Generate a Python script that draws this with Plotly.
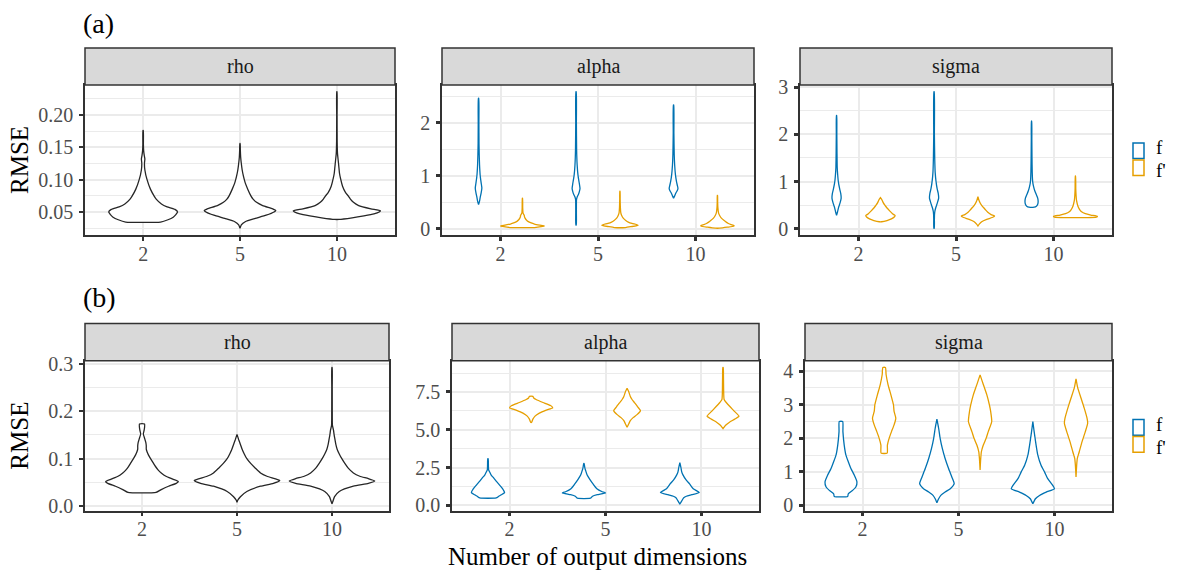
import plotly.graph_objects as go

W, H = 1178, 578
FONT = "Liberation Serif"

DIMS = ["2", "5", "10"]
PARAMS = ["rho", "alpha", "sigma"]
GROUPS = ["f", "f'"]
COLORS = {"f": "#0072B2", "f'": "#E69F00", "all": "#262626"}

# ---------- violin density profiles ----------
# y = RMSE value, w = half-width relative to the widest allowed violin

# (a) rho
A_RHO_2_Y = [0.0345, 0.038, 0.042, 0.046, 0.05, 0.054, 0.058, 0.0625, 0.07, 0.075, 0.085, 0.1, 0.115, 0.125, 0.132, 0.138, 0.145, 0.155, 0.176]
A_RHO_2_W = [0.40, 0.57, 0.69, 0.75, 0.79, 0.73, 0.55, 0.42, 0.30, 0.25, 0.17, 0.09, 0.04, 0.03, 0.04, 0.025, 0.012, 0.006, 0.004]
A_RHO_5_Y = [0.025, 0.03, 0.035, 0.04, 0.045, 0.05, 0.0525, 0.055, 0.06, 0.065, 0.07, 0.075, 0.085, 0.095, 0.105, 0.115, 0.125, 0.135, 0.145, 0.156]
A_RHO_5_W = [0.0, 0.03, 0.12, 0.35, 0.6, 0.78, 0.82, 0.75, 0.52, 0.38, 0.30, 0.25, 0.18, 0.12, 0.08, 0.05, 0.03, 0.015, 0.008, 0.003]
A_RHO_10_Y = [0.0385, 0.041, 0.044, 0.047, 0.05, 0.052, 0.055, 0.06, 0.065, 0.07, 0.075, 0.08, 0.09, 0.1, 0.11, 0.12, 0.13, 0.14, 0.16, 0.2, 0.236]
A_RHO_10_W = [0.05, 0.35, 0.62, 0.85, 0.97, 1.0, 0.78, 0.5, 0.38, 0.31, 0.26, 0.2, 0.13, 0.09, 0.06, 0.045, 0.03, 0.015, 0.006, 0.004, 0.003]

# (a) alpha
A_ALPHA_F_2_Y = [0.456, 0.52, 0.59, 0.68, 0.77, 0.86, 1.0, 1.2, 1.4, 1.6, 2.0, 2.46]
A_ALPHA_F_2_W = [0.0, 0.045, 0.075, 0.12, 0.15, 0.12, 0.075, 0.045, 0.03, 0.02, 0.015, 0.008]
A_ALPHA_FP_2_Y = [0.024, 0.04, 0.055, 0.07, 0.09, 0.11, 0.14, 0.17, 0.2, 0.23, 0.25, 0.27, 0.3, 0.4, 0.577]
A_ALPHA_FP_2_W = [0.55, 0.85, 1.0, 0.8, 0.55, 0.4, 0.25, 0.17, 0.12, 0.09, 0.09, 0.06, 0.025, 0.012, 0.005]
A_ALPHA_F_5_Y = [0.073, 0.3, 0.55, 0.6, 0.65, 0.7, 0.76, 0.85, 1.0, 1.2, 1.5, 2.0, 2.58]
A_ALPHA_F_5_W = [0.01, 0.015, 0.02, 0.05, 0.11, 0.15, 0.18, 0.15, 0.09, 0.05, 0.025, 0.015, 0.008]
A_ALPHA_FP_5_Y = [0.024, 0.04, 0.065, 0.08, 0.1, 0.125, 0.15, 0.2, 0.25, 0.3, 0.4, 0.55, 0.71]
A_ALPHA_FP_5_W = [0.25, 0.5, 0.83, 0.75, 0.55, 0.38, 0.28, 0.15, 0.08, 0.04, 0.02, 0.01, 0.005]
A_ALPHA_F_10_Y = [0.577, 0.62, 0.67, 0.72, 0.76, 0.82, 0.9, 1.0, 1.2, 1.4, 1.8, 2.33]
A_ALPHA_F_10_W = [0.0, 0.05, 0.1, 0.17, 0.2, 0.17, 0.13, 0.09, 0.05, 0.03, 0.015, 0.008]
A_ALPHA_FP_10_Y = [0.012, 0.03, 0.05, 0.065, 0.08, 0.1, 0.125, 0.15, 0.2, 0.25, 0.3, 0.4, 0.5, 0.63]
A_ALPHA_FP_10_W = [0.1, 0.45, 0.75, 0.75, 0.62, 0.5, 0.4, 0.32, 0.18, 0.1, 0.05, 0.02, 0.01, 0.005]

# (a) sigma
A_SIGMA_F_2_Y = [0.287, 0.35, 0.45, 0.55, 0.65, 0.75, 0.85, 1.0, 1.15, 1.3, 1.6, 2.0, 2.4]
A_SIGMA_F_2_W = [0.0, 0.04, 0.09, 0.16, 0.21, 0.19, 0.14, 0.08, 0.05, 0.03, 0.02, 0.012, 0.006]
A_SIGMA_FP_2_Y = [0.15, 0.175, 0.21, 0.25, 0.28, 0.32, 0.38, 0.44, 0.5, 0.56, 0.62, 0.66]
A_SIGMA_FP_2_W = [0.05, 0.3, 0.5, 0.63, 0.67, 0.55, 0.42, 0.3, 0.2, 0.12, 0.06, 0.0]
A_SIGMA_F_5_Y = [0.014, 0.2, 0.3, 0.38, 0.45, 0.55, 0.65, 0.75, 0.85, 1.0, 1.2, 1.5, 2.0, 2.9]
A_SIGMA_F_5_W = [0.01, 0.015, 0.02, 0.04, 0.08, 0.15, 0.21, 0.19, 0.14, 0.09, 0.05, 0.03, 0.015, 0.008]
A_SIGMA_FP_5_Y = [0.06, 0.1, 0.15, 0.2, 0.24, 0.27, 0.3, 0.35, 0.4, 0.5, 0.6, 0.68]
A_SIGMA_FP_5_W = [0.0, 0.06, 0.17, 0.4, 0.65, 0.76, 0.6, 0.45, 0.35, 0.16, 0.05, 0.0]
A_SIGMA_F_10_Y = [0.46, 0.48, 0.52, 0.58, 0.65, 0.72, 0.8, 0.9, 1.0, 1.2, 1.5, 1.9, 2.28]
A_SIGMA_F_10_W = [0.12, 0.22, 0.28, 0.3, 0.28, 0.22, 0.15, 0.09, 0.05, 0.03, 0.02, 0.012, 0.006]
A_SIGMA_FP_10_Y = [0.246, 0.265, 0.29, 0.32, 0.36, 0.4, 0.45, 0.5, 0.6, 0.7, 0.85, 1.12]
A_SIGMA_FP_10_W = [0.95, 1.0, 0.7, 0.45, 0.28, 0.2, 0.14, 0.1, 0.05, 0.03, 0.015, 0.005]

# (b) rho
B_RHO_2_Y = [0.029, 0.035, 0.042, 0.048, 0.052, 0.057, 0.063, 0.07, 0.076, 0.083, 0.09, 0.1, 0.108, 0.114, 0.12, 0.127, 0.134, 0.14, 0.146, 0.152, 0.16, 0.166, 0.173]
B_RHO_2_W = [0.33, 0.45, 0.62, 0.8, 0.85, 0.72, 0.56, 0.45, 0.38, 0.32, 0.27, 0.2, 0.15, 0.12, 0.1, 0.1, 0.09, 0.07, 0.05, 0.03, 0.05, 0.06, 0.06]
B_RHO_5_Y = [0.008, 0.013, 0.02, 0.031, 0.042, 0.048, 0.054, 0.058, 0.063, 0.07, 0.08, 0.09, 0.1, 0.11, 0.12, 0.13, 0.14, 0.151]
B_RHO_5_W = [0.0, 0.02, 0.08, 0.23, 0.55, 0.85, 1.0, 0.88, 0.7, 0.55, 0.43, 0.32, 0.23, 0.17, 0.12, 0.08, 0.04, 0.0]
B_RHO_10_Y = [0.005, 0.01, 0.02, 0.031, 0.042, 0.048, 0.053, 0.058, 0.063, 0.07, 0.08, 0.09, 0.1, 0.11, 0.12, 0.13, 0.14, 0.15, 0.16, 0.17, 0.2, 0.25, 0.292]
B_RHO_10_W = [0.0, 0.02, 0.06, 0.17, 0.5, 0.85, 1.0, 0.85, 0.65, 0.5, 0.38, 0.3, 0.23, 0.17, 0.12, 0.09, 0.07, 0.05, 0.035, 0.01, 0.006, 0.005, 0.004]

# (b) alpha
B_ALPHA_F_2_Y = [0.49, 0.6, 0.7, 0.85, 1.0, 1.2, 1.4, 1.6, 1.8, 2.0, 2.2, 2.35, 2.6, 3.09]
B_ALPHA_F_2_W = [0.38, 0.5, 0.62, 0.77, 0.72, 0.62, 0.5, 0.38, 0.27, 0.15, 0.08, 0.03, 0.02, 0.01]
B_ALPHA_FP_2_Y = [5.48, 5.55, 5.7, 5.9, 6.1, 6.3, 6.45, 6.6, 6.8, 7.0, 7.1, 7.21]
B_ALPHA_FP_2_W = [0.01, 0.04, 0.08, 0.18, 0.38, 0.7, 1.0, 0.9, 0.55, 0.23, 0.12, 0.08]
B_ALPHA_F_5_Y = [0.47, 0.6, 0.7, 0.82, 0.9, 1.1, 1.4, 1.7, 2.0, 2.3, 2.5, 2.77]
B_ALPHA_F_5_W = [0.3, 0.4, 0.62, 1.0, 0.85, 0.6, 0.43, 0.28, 0.15, 0.08, 0.04, 0.01]
B_ALPHA_FP_5_Y = [5.16, 5.4, 5.6, 5.8, 6.0, 6.25, 6.5, 6.8, 7.0, 7.2, 7.5, 7.74]
B_ALPHA_FP_5_W = [0.0, 0.08, 0.15, 0.28, 0.46, 0.62, 0.5, 0.34, 0.23, 0.15, 0.08, 0.0]
B_ALPHA_F_10_Y = [0.1, 0.2, 0.35, 0.5, 0.6, 0.7, 0.85, 1.1, 1.4, 1.7, 2.0, 2.2, 2.5, 2.83]
B_ALPHA_F_10_W = [0.0, 0.05, 0.11, 0.18, 0.3, 0.55, 0.9, 0.62, 0.46, 0.28, 0.15, 0.09, 0.05, 0.0]
B_ALPHA_FP_10_Y = [5.07, 5.3, 5.5, 5.7, 5.9, 6.2, 6.5, 6.8, 7.0, 7.5, 8.0, 8.5, 9.12]
B_ALPHA_FP_10_W = [0.0, 0.12, 0.3, 0.54, 0.74, 0.54, 0.34, 0.15, 0.05, 0.03, 0.025, 0.02, 0.01]

# (b) sigma
B_SIGMA_F_2_Y = [0.27, 0.35, 0.45, 0.55, 0.7, 0.9, 1.1, 1.3, 1.5, 1.8, 2.2, 2.5]
B_SIGMA_F_2_W = [0.31, 0.34, 0.54, 0.69, 0.74, 0.62, 0.46, 0.34, 0.23, 0.15, 0.09, 0.08]
B_SIGMA_FP_2_Y = [1.56, 1.8, 2.0, 2.2, 2.4, 2.6, 2.8, 3.0, 3.3, 3.6, 3.9, 4.11]
B_SIGMA_FP_2_W = [0.14, 0.15, 0.23, 0.34, 0.46, 0.54, 0.46, 0.43, 0.31, 0.18, 0.09, 0.06]
B_SIGMA_F_5_Y = [0.08, 0.2, 0.3, 0.4, 0.5, 0.65, 0.85, 1.1, 1.4, 1.7, 2.0, 2.3, 2.57]
B_SIGMA_F_5_W = [0.0, 0.08, 0.18, 0.38, 0.62, 0.8, 0.69, 0.54, 0.38, 0.25, 0.15, 0.08, 0.0]
B_SIGMA_FP_5_Y = [1.06, 1.4, 1.6, 1.8, 2.0, 2.2, 2.5, 2.8, 3.0, 3.3, 3.6, 3.89]
B_SIGMA_FP_5_W = [0.0, 0.03, 0.06, 0.15, 0.28, 0.38, 0.54, 0.49, 0.43, 0.31, 0.15, 0.0]
B_SIGMA_F_10_Y = [0.05, 0.2, 0.3, 0.4, 0.5, 0.6, 0.8, 1.0, 1.2, 1.5, 1.8, 2.2, 2.5]
B_SIGMA_F_10_W = [0.0, 0.12, 0.31, 0.62, 1.0, 0.92, 0.69, 0.54, 0.38, 0.23, 0.15, 0.06, 0.0]
B_SIGMA_FP_10_Y = [0.85, 1.2, 1.4, 1.6, 1.9, 2.2, 2.45, 2.6, 2.9, 3.2, 3.5, 3.77]
B_SIGMA_FP_10_W = [0.0, 0.03, 0.06, 0.15, 0.28, 0.43, 0.54, 0.51, 0.38, 0.23, 0.08, 0.0]

# ---------- assemble ----------
VIOLINS = {
    ("a", "rho"): [("2", "all", A_RHO_2_Y, A_RHO_2_W), ("5", "all", A_RHO_5_Y, A_RHO_5_W),
                   ("10", "all", A_RHO_10_Y, A_RHO_10_W)],
    ("a", "alpha"): [("2", "f", A_ALPHA_F_2_Y, A_ALPHA_F_2_W), ("2", "f'", A_ALPHA_FP_2_Y, A_ALPHA_FP_2_W),
                     ("5", "f", A_ALPHA_F_5_Y, A_ALPHA_F_5_W), ("5", "f'", A_ALPHA_FP_5_Y, A_ALPHA_FP_5_W),
                     ("10", "f", A_ALPHA_F_10_Y, A_ALPHA_F_10_W), ("10", "f'", A_ALPHA_FP_10_Y, A_ALPHA_FP_10_W)],
    ("a", "sigma"): [("2", "f", A_SIGMA_F_2_Y, A_SIGMA_F_2_W), ("2", "f'", A_SIGMA_FP_2_Y, A_SIGMA_FP_2_W),
                     ("5", "f", A_SIGMA_F_5_Y, A_SIGMA_F_5_W), ("5", "f'", A_SIGMA_FP_5_Y, A_SIGMA_FP_5_W),
                     ("10", "f", A_SIGMA_F_10_Y, A_SIGMA_F_10_W), ("10", "f'", A_SIGMA_FP_10_Y, A_SIGMA_FP_10_W)],
    ("b", "rho"): [("2", "all", B_RHO_2_Y, B_RHO_2_W), ("5", "all", B_RHO_5_Y, B_RHO_5_W),
                   ("10", "all", B_RHO_10_Y, B_RHO_10_W)],
    ("b", "alpha"): [("2", "f", B_ALPHA_F_2_Y, B_ALPHA_F_2_W), ("2", "f'", B_ALPHA_FP_2_Y, B_ALPHA_FP_2_W),
                     ("5", "f", B_ALPHA_F_5_Y, B_ALPHA_F_5_W), ("5", "f'", B_ALPHA_FP_5_Y, B_ALPHA_FP_5_W),
                     ("10", "f", B_ALPHA_F_10_Y, B_ALPHA_F_10_W), ("10", "f'", B_ALPHA_FP_10_Y, B_ALPHA_FP_10_W)],
    ("b", "sigma"): [("2", "f", B_SIGMA_F_2_Y, B_SIGMA_F_2_W), ("2", "f'", B_SIGMA_FP_2_Y, B_SIGMA_FP_2_W),
                     ("5", "f", B_SIGMA_F_5_Y, B_SIGMA_F_5_W), ("5", "f'", B_SIGMA_FP_5_Y, B_SIGMA_FP_5_W),
                     ("10", "f", B_SIGMA_F_10_Y, B_SIGMA_F_10_W), ("10", "f'", B_SIGMA_FP_10_Y, B_SIGMA_FP_10_W)],
}

# y-axis tick settings per panel: (dtick, tickformat)
YTICKS = {
    ("a", "rho"): (0.05, ".2f"), ("a", "alpha"): (1, "d"), ("a", "sigma"): (1, "d"),
    ("b", "rho"): (0.1, ".1f"), ("b", "alpha"): (2.5, ".1f"), ("b", "sigma"): (1, "d"),
}

# panel geometry in pixels: x0, x1, strip top, plot top, plot bottom
GEOM = {
    ("a", "rho"): (85, 395, 40, 78, 232), ("a", "alpha"): (442, 754, 40, 78, 232),
    ("a", "sigma"): (800, 1112, 40, 78, 232),
    ("b", "rho"): (85, 389, 323, 361, 515), ("b", "alpha"): (452, 759, 323, 361, 515),
    ("b", "sigma"): (805, 1112, 323, 361, 515),
}

fig = go.Figure()
layout_axes = {}
shapes = []
annotations = []

GRID = "#EBEBEB"
DARK = "#333333"

idx = 0
for row in ["a", "b"]:
    for p in PARAMS:
        idx += 1
        key = (row, p)
        xs_name = "x" if idx == 1 else f"x{idx}"
        ys_name = "y" if idx == 1 else f"y{idx}"
        dodge = p != "rho"
        half = 0.225 if dodge else 0.45
        ymin, ymax = 1e9, -1e9
        for dim, grp, yv, wv in VIOLINS[key]:
            pos = DIMS.index(dim) + 1
            if dodge:
                pos += -0.225 if grp == "f" else 0.225
            right = [pos + w * half for w in wv]
            left = [pos - w * half for w in wv]
            xs = right + left[::-1] + [right[0]]
            ys = list(yv) + list(yv)[::-1] + [yv[0]]
            ymin, ymax = min(ymin, min(yv)), max(ymax, max(yv))
            fig.add_trace(go.Scatter(
                x=xs, y=ys, mode="lines", fill="toself", fillcolor="white",
                line=dict(color=COLORS[grp], width=1.3, shape="spline", smoothing=0.5),
                xaxis=xs_name, yaxis=ys_name, showlegend=False, hoverinfo="skip"))
        span = ymax - ymin
        yr = [ymin - 0.05 * span, ymax + 0.05 * span]
        x0, x1, st, pt, pb = GEOM[key]
        dt, fmt = YTICKS[key]
        tw = 1.6 if p == "rho" else 3
        common = dict(showline=True, mirror=True, linecolor=DARK, linewidth=1.5,
                      ticks="outside", ticklen=4, tickwidth=tw, tickcolor=DARK,
                      tickfont=dict(family=FONT, size=20, color="#4D4D4D"),
                      showgrid=True, gridcolor=GRID, gridwidth=1.6, zeroline=False,
                      fixedrange=True)
        layout_axes["xaxis" if idx == 1 else f"xaxis{idx}"] = dict(
            domain=[x0 / W, x1 / W], range=[0.4, 3.6], tickmode="array",
            tickvals=[1, 2, 3], ticktext=DIMS, anchor=ys_name,
            ticklabelstandoff=-4, **common)
        layout_axes["yaxis" if idx == 1 else f"yaxis{idx}"] = dict(
            domain=[1 - pb / H, 1 - pt / H], range=yr, tick0=0, dtick=dt,
            tickformat=fmt, anchor=xs_name, ticklabelstandoff=2,
            minor=dict(dtick=dt / 2, tick0=0, showgrid=True, gridcolor=GRID,
                       gridwidth=0.8, ticks=""),
            **common)
        # strip
        shapes.append(dict(type="rect", xref="paper", yref="paper",
                           x0=x0 / W, x1=x1 / W, y0=1 - pt / H, y1=1 - st / H,
                           fillcolor="#D9D9D9", line=dict(color=DARK, width=1.5)))
        annotations.append(dict(text=p, xref="paper", yref="paper",
                                x=(x0 + x1) / 2 / W, y=1 - (st + pt) / 2 / H,
                                showarrow=False, xanchor="center", yanchor="middle",
                                font=dict(family=FONT, size=20, color="#1A1A1A")))

# row labels, axis titles
for lab, yc, ymid in [("(a)", 15, 155), ("(b)", 296, 438)]:
    annotations.append(dict(text=lab, xref="paper", yref="paper", x=81 / W, y=1 - yc / H,
                            xanchor="left", yanchor="middle", showarrow=False,
                            font=dict(family=FONT, size=28, color="black")))
    annotations.append(dict(text="RMSE", xref="paper", yref="paper", x=20 / W, y=1 - ymid / H,
                            xanchor="center", yanchor="middle", textangle=-90, showarrow=False,
                            font=dict(family=FONT, size=25, color="black")))
annotations.append(dict(text="Number of output dimensions", xref="paper", yref="paper",
                        x=597 / W, y=1 - 546 / H, xanchor="center", yanchor="top",
                        showarrow=False, font=dict(family=FONT, size=25, color="black")))

# legends (one per row)
for top in [137, 421]:
    for k, g in enumerate(GROUPS):
        y0 = top + k * 17.5
        shapes.append(dict(type="rect", xref="paper", yref="paper",
                           x0=1133 / W, x1=1144 / W, y0=1 - (y0 + 16.5) / H, y1=1 - (y0 + 0.5) / H,
                           fillcolor="white", line=dict(color=COLORS[g], width=1.5)))
        annotations.append(dict(text=g, xref="paper", yref="paper", x=1155 / W,
                                y=1 - (top + 17.5) / H,
                                xanchor="left", yanchor="bottom" if k == 0 else "top",
                                showarrow=False, borderpad=0,
                                font=dict(family=FONT, size=19, color="black")))

fig.update_layout(width=W, height=H, margin=dict(l=0, r=0, t=0, b=0),
                  paper_bgcolor="white", plot_bgcolor="white", showlegend=False,
                  shapes=shapes, annotations=annotations, **layout_axes)

fig.write_html("out.html")
